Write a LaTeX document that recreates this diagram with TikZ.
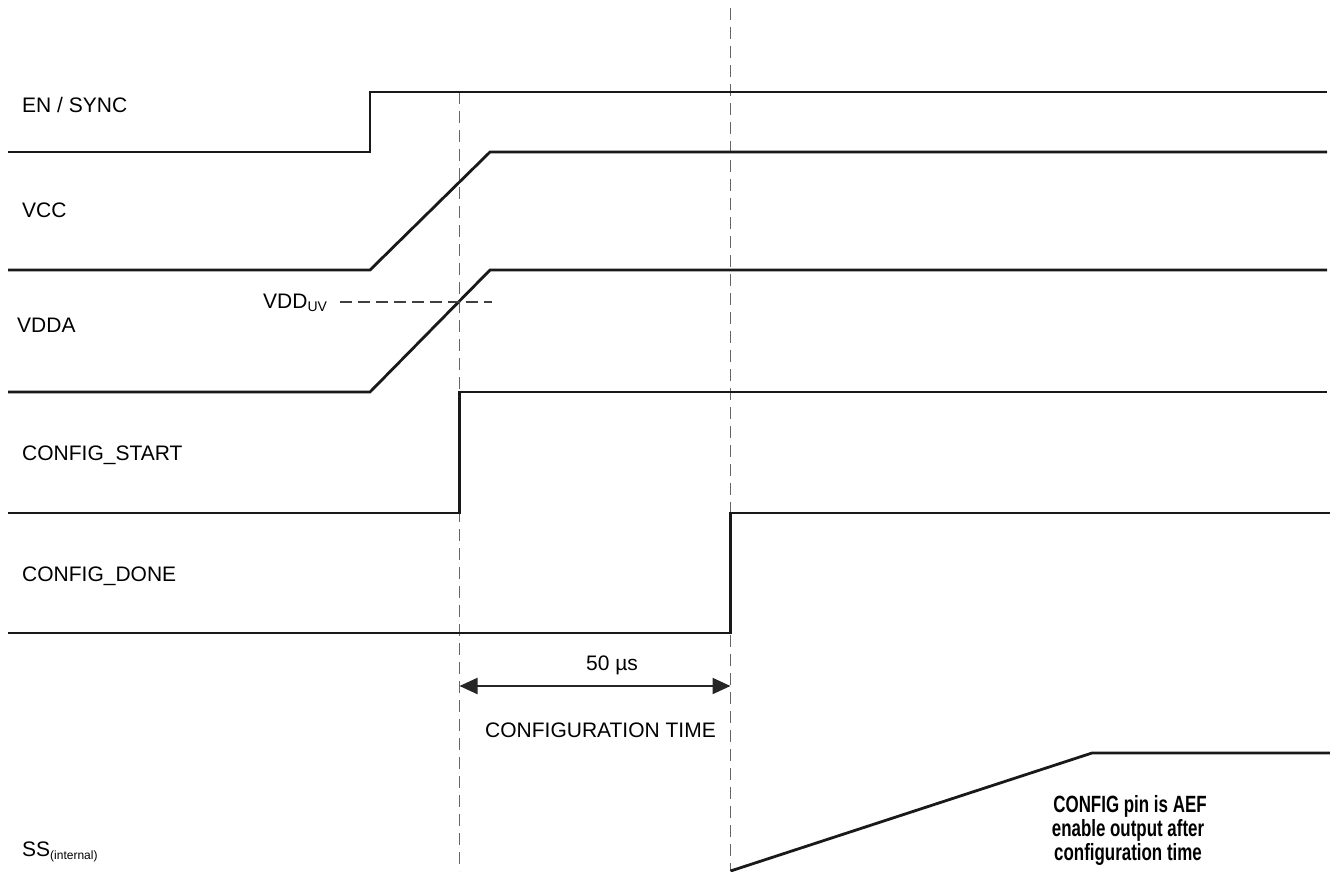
\documentclass[tikz,border=0pt]{standalone}
\usepackage{fontspec}
\setmainfont{Liberation Sans}
\usetikzlibrary{arrows.meta}
\begin{document}
\begin{tikzpicture}[x=1pt,y=-1pt,
  wave/.style={line width=2.8pt, line join=miter, draw=black!90},
  guide/.style={line width=1.7pt, draw=black!60, dash pattern=on 12pt off 7pt},
  uvline/.style={line width=1.3pt, draw=black!75, dash pattern=on 12pt off 6pt},
  dimline/.style={line width=2.2pt, draw=black!85, {Triangle[length=18pt,width=16pt]}-{Triangle[length=18pt,width=16pt]}},
  sig/.style={anchor=base west, inner sep=0pt, font=\fontsize{21}{25}\selectfont},
  lbl/.style={anchor=base, inner sep=0pt, font=\fontsize{21}{25}\selectfont},
  note/.style={anchor=base, inner sep=0pt, font=\fontsize{23.5}{28}\selectfont\bfseries}]
\useasboundingbox (0,0) rectangle (1330,871);
\fill[white] (0,0) rectangle (1330,871);

% guide lines
\coordinate (g1top) at (459.5,92);
\coordinate (g1bot) at (459.5,871);
\coordinate (g2top) at (730.5,8);
\coordinate (g2bot) at (730.5,871);
\draw[guide] (g1top) -- (g1bot);
\draw[guide] (g2top) -- (g2bot);

% EN / SYNC
\coordinate (en0) at (8,152);
\coordinate (en1) at (370,152);
\coordinate (en2) at (370,92);
\coordinate (en3) at (1327,92);
\draw[wave] (en0) -- (en1) -- (en2) -- (en3);
\node[sig] (lEN) at (22,112) {EN / SYNC};

% VCC
\coordinate (vc0) at (8,270);
\coordinate (vc1) at (370,270);
\coordinate (vc2) at (490,152);
\coordinate (vc3) at (1327,152);
\draw[wave] (vc0) -- (vc1) -- (vc2) -- (vc3);
\node[sig] (lVCC) at (22,217) {VCC};

% VDDA
\coordinate (vd0) at (8,392);
\coordinate (vd1) at (370,392);
\coordinate (vd2) at (490,270);
\coordinate (vd3) at (1327,270);
\draw[wave] (vd0) -- (vd1) -- (vd2) -- (vd3);
\node[sig] (lVDDA) at (17,332) {VDDA};

% VDD_UV threshold
\node[sig] (lUV) at (263,308) {VDD\raisebox{-3pt}{\fontsize{14}{16}\selectfont UV}};
\coordinate (uv0) at (340,302);
\coordinate (uv1) at (492,302);
\draw[uvline] (uv0) -- (uv1);

% CONFIG_START
\coordinate (cs0) at (8,513);
\coordinate (cs1) at (459.5,513);
\coordinate (cs2) at (459.5,392);
\coordinate (cs3) at (1327,392);
\draw[wave] (cs0) -- (cs1) -- (cs2) -- (cs3);
\node[sig] (lCS) at (22,460) {CONFIG\_START};

% CONFIG_DONE
\coordinate (cd0) at (8,633);
\coordinate (cd1) at (730.5,633);
\coordinate (cd2) at (730.5,513);
\coordinate (cd3) at (1330,513);
\draw[wave] (cd0) -- (cd1) -- (cd2) -- (cd3);
\node[sig] (lCD) at (22,581) {CONFIG\_DONE};

% configuration time dimension
\coordinate (d0) at (459.5,686);
\coordinate (d1) at (730.5,686);
\draw[dimline] (d0) -- (d1);
\node[lbl] (l50) at (612,670) {50 µs};
\node[lbl] (lCT) at (600.5,737) {CONFIGURATION TIME};

% SS(internal)
\coordinate (ss0) at (730.5,871);
\coordinate (ss1) at (1092,753);
\coordinate (ss2) at (1330,753);
\draw[wave] (ss0) -- (ss1) -- (ss2);
\node[sig] (lSS) at (22,856) {SS\raisebox{-3pt}{\fontsize{12}{14}\selectfont(internal)}};

% note
\node[note] (n1) at (1130,812) {\scalebox{0.72}[1]{CONFIG pin is AEF}};
\node[note] (n2) at (1128,836) {\scalebox{0.72}[1]{enable output after}};
\node[note] (n3) at (1128,860) {\scalebox{0.72}[1]{configuration time}};
\end{tikzpicture}
\end{document}
